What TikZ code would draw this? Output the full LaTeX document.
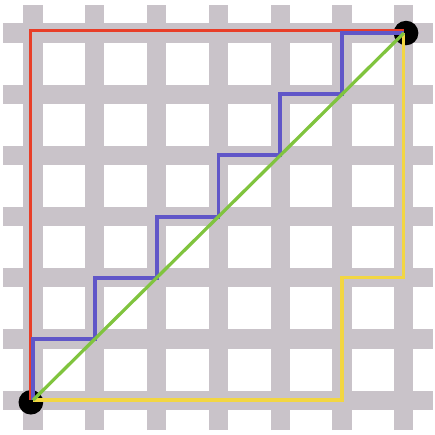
\documentclass[tikz,border=0pt]{standalone}
\usepackage{tikz}
\definecolor{street}{RGB}{201,195,201}
\definecolor{pathred}{RGB}{232,62,40}
\definecolor{pathblue}{RGB}{96,86,200}
\definecolor{pathgreen}{RGB}{128,196,62}
\definecolor{pathyellow}{RGB}{242,214,66}
\begin{document}
\begin{tikzpicture}[x=1cm,y=0.99cm]
  \useasboundingbox (-0.535,-0.57) rectangle (6.5,6.54);
  \fill[white] (-0.535,-0.57) rectangle (6.5,6.54);
  \foreach \i in {0,...,6} {
    \draw[street,line width=0.31cm] (\i,-0.49) -- (\i,6.46);
    \draw[street,line width=0.31cm] (-0.49,\i) -- (6.47,\i);
  }
  \coordinate (s) at (0,0); \coordinate (t) at (6,6);
  \fill ([xshift=-1pt,yshift=-1pt]s) circle (0.2);
  \fill ([xshift=1pt]t) circle (0.2);
  \draw[pathred,line width=1.5pt] ([xshift=-1.2pt]s) -- ([xshift=-1.2pt,yshift=1.2pt]0,6) -- ([yshift=1.2pt]t);
  \draw[pathblue,line width=1.8pt] (s) -- (0,1) -| (1,2) -| (2,3) -| (3,4) -| (4,5) -| (5,6) -- (t);
  \draw[pathyellow,line width=1.5pt] (s) -- (5,0) -- (5,2) -- (6,2) -- (t);
  \draw[pathgreen,line width=1.5pt] (s) -- (t);
\end{tikzpicture}
\end{document}
